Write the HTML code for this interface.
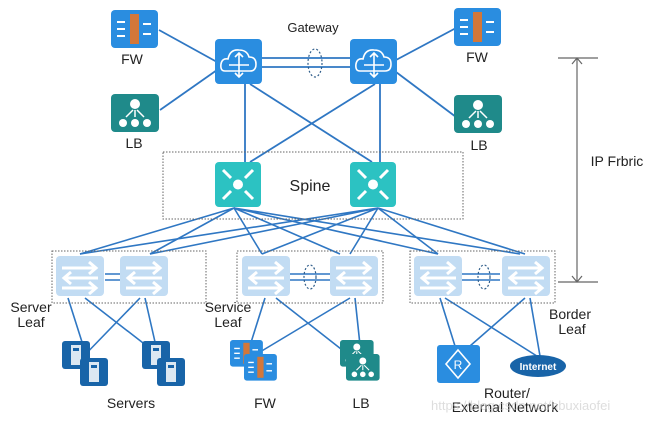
<!DOCTYPE html>
<html><head><meta charset="utf-8"><style>
html,body{margin:0;padding:0;background:#fff;}
svg{display:block;font-family:"Liberation Sans","DejaVu Sans",sans-serif;}
</style></head><body>
<svg width="656" height="421" viewBox="0 0 656 421" xmlns="http://www.w3.org/2000/svg">
<defs>
<g id="leaf"><rect width="48" height="40" rx="4" fill="#c2dcf3"/>
<g stroke="#fff" stroke-width="3" fill="none"><path d="M6 12h34M33 6l7 6-7 6"/><path d="M42 22H8M15 16l-7 6 7 6"/><path d="M6 32h34M33 26l7 6-7 6"/></g></g>
<g id="gw"><rect width="47" height="45" rx="4" fill="#2a8de0"/>
<path d="M10 32 Q5 32 6 25 Q7 19 13 20 Q15 10 24 11 Q32 11 34 18 Q41 18 41 25 Q41 32 35 32Z" fill="none" stroke="#fff" stroke-width="1.6"/>
<g stroke="#fff" stroke-width="1.6" fill="none"><path d="M24 14v24M14 26h20M20 18l4-4 4 4M20 34l4 4 4-4"/></g></g>
<g id="fw"><rect width="47" height="38" rx="4" fill="#2a8de0"/><rect x="19" y="4" width="9" height="30" fill="#d2773a"/>
<g stroke="#fff" stroke-width="2"><path d="M6 12h8M6 19h8M6 26h8M32 14h8M32 24h8"/></g></g>
<g id="lb"><rect width="48" height="38" rx="4" fill="#1f8a8a"/><circle cx="24" cy="10" r="5" fill="#fff"/>
<circle cx="12" cy="29" r="4" fill="#fff"/><circle cx="24" cy="29" r="4" fill="#fff"/><circle cx="36" cy="29" r="4" fill="#fff"/>
<path d="M22 16l-7 7M24 16v7M26 16l7 7" stroke="#fff" stroke-width="1.5"/></g>
<g id="sp"><rect width="46" height="45" rx="4" fill="#2cc2c2"/><circle cx="23" cy="22.5" r="5" fill="#fff"/>
<g stroke="#fff" stroke-width="3" fill="none"><path d="M8 8l8 8M8 37l8-8M38 8l-8 8M38 37l-8-8"/></g></g>
<g id="srv"><rect width="28" height="28" rx="3" fill="#1864a8"/><rect x="9" y="4" width="10" height="20" fill="#fff" opacity="0.85"/><rect x="11" y="7" width="6" height="3" fill="#1864a8"/></g>
</defs>
<g stroke="#2f77c3" stroke-width="1.8" fill="none">
<line x1="159" y1="30" x2="217" y2="62"/><line x1="160" y1="110" x2="217" y2="70"/>
<line x1="396" y1="60" x2="456" y2="28"/><line x1="396" y1="72" x2="456" y2="117"/>
<line x1="245" y1="84" x2="245" y2="162"/><line x1="250" y1="84" x2="372" y2="162"/>
<line x1="375" y1="84" x2="250" y2="162"/><line x1="380" y1="84" x2="380" y2="162"/>
<line x1="262" y1="58" x2="350" y2="58"/><line x1="262" y1="67" x2="350" y2="67"/>
</g>
<g stroke="#2f77c3" stroke-width="1.6" fill="none">
<path d="M234 208L80 254M234 208L150 254M234 208L262 254M234 208L340 254M234 208L438 254M234 208L520 254"/>
<path d="M378 208L80 254M378 208L150 254M378 208L262 254M378 208L350 254M378 208L438 254M378 208L525 254"/>
<path d="M105 274h15M105 280h15M290 274h40M290 280h40M462 274h38M462 280h38"/>
<path d="M68 298L82 342M85 298L165 360M140 298L78 362M145 298L155 342"/>
<path d="M265 298L248 352M276 298L355 360M350 298L260 352M355 298L360 345"/>
<path d="M440 298L455 346M445 298L540 358M525 298L470 346M530 298L540 356"/>
</g>
<g fill="none" stroke="#2f5d8a" stroke-width="1.2" stroke-dasharray="2,2">
<ellipse cx="315" cy="63" rx="7" ry="14"/><ellipse cx="127" cy="277" rx="6" ry="12"/><ellipse cx="310" cy="277" rx="6" ry="12"/><ellipse cx="484" cy="277" rx="6" ry="12"/>
</g>
<g fill="none" stroke="#666" stroke-width="1" stroke-dasharray="1.5,1.5">
<rect x="163" y="152" width="300" height="67"/><rect x="52" y="251" width="154" height="52"/><rect x="237" y="251" width="146" height="52"/><rect x="410" y="251" width="145" height="52"/>
</g>
<use href="#fw" x="111" y="10"/><use href="#fw" x="454" y="8"/>
<use href="#lb" x="111" y="94"/><use href="#lb" x="454" y="95"/>
<use href="#gw" x="215" y="39"/><use href="#gw" x="350" y="39"/>
<use href="#sp" x="215" y="162"/><use href="#sp" x="350" y="162"/>
<use href="#leaf" x="56" y="256"/><use href="#leaf" x="120" y="256"/>
<use href="#leaf" x="242" y="256"/><use href="#leaf" x="330" y="256"/>
<use href="#leaf" x="414" y="256"/><use href="#leaf" x="502" y="256"/>
<use href="#srv" x="62" y="341"/><use href="#srv" x="80" y="358"/>
<use href="#srv" x="142" y="341"/><use href="#srv" x="157" y="358"/>
<g transform="translate(230,340) scale(0.7)"><use href="#fw"/></g><g transform="translate(244,354) scale(0.7)"><use href="#fw"/></g>
<g transform="translate(340,340) scale(0.7)"><use href="#lb"/></g><g transform="translate(346,354) scale(0.7)"><use href="#lb"/></g>
<rect x="437" y="345" width="43" height="38" rx="3" fill="#2a8de0"/>
<path d="M458 350l12 14-12 14-12-14z" fill="none" stroke="#fff" stroke-width="1.6"/>
<text x="458" y="369" font-size="12" fill="#fff" text-anchor="middle">R</text>
<ellipse cx="538" cy="366" rx="28" ry="11" fill="#1864a8"/>
<text x="538" y="370" font-size="10" font-weight="bold" fill="#fff" text-anchor="middle">Internet</text>
<g stroke="#666" stroke-width="1.2" fill="none"><path d="M577 58V282M558 58h40M558 282h40M572 64l5-6 5 6M572 276l5 6 5-6"/></g>
<g font-size="14" fill="#222" text-anchor="middle">
<text x="313" y="32" font-size="13">Gateway</text>
<text x="132" y="64">FW</text><text x="477" y="62">FW</text>
<text x="134" y="148">LB</text><text x="479" y="150">LB</text>
<text x="310" y="191" font-size="16">Spine</text>
<text x="617" y="166">IP Frbric</text>
<text x="31" y="312">Server</text><text x="31" y="327">Leaf</text>
<text x="228" y="312">Service</text><text x="228" y="327">Leaf</text>
<text x="570" y="319">Border</text><text x="572" y="334">Leaf</text>
<text x="131" y="408">Servers</text><text x="265" y="408">FW</text><text x="361" y="408">LB</text>
<text x="507" y="398">Router/</text><text x="505" y="412">External Network</text>
</g>
<text x="431" y="410" font-size="13" fill="#c8c8c8" opacity="0.6">https://blog.csdn.net/hbuxiaofei</text>
</svg>
</body></html>
